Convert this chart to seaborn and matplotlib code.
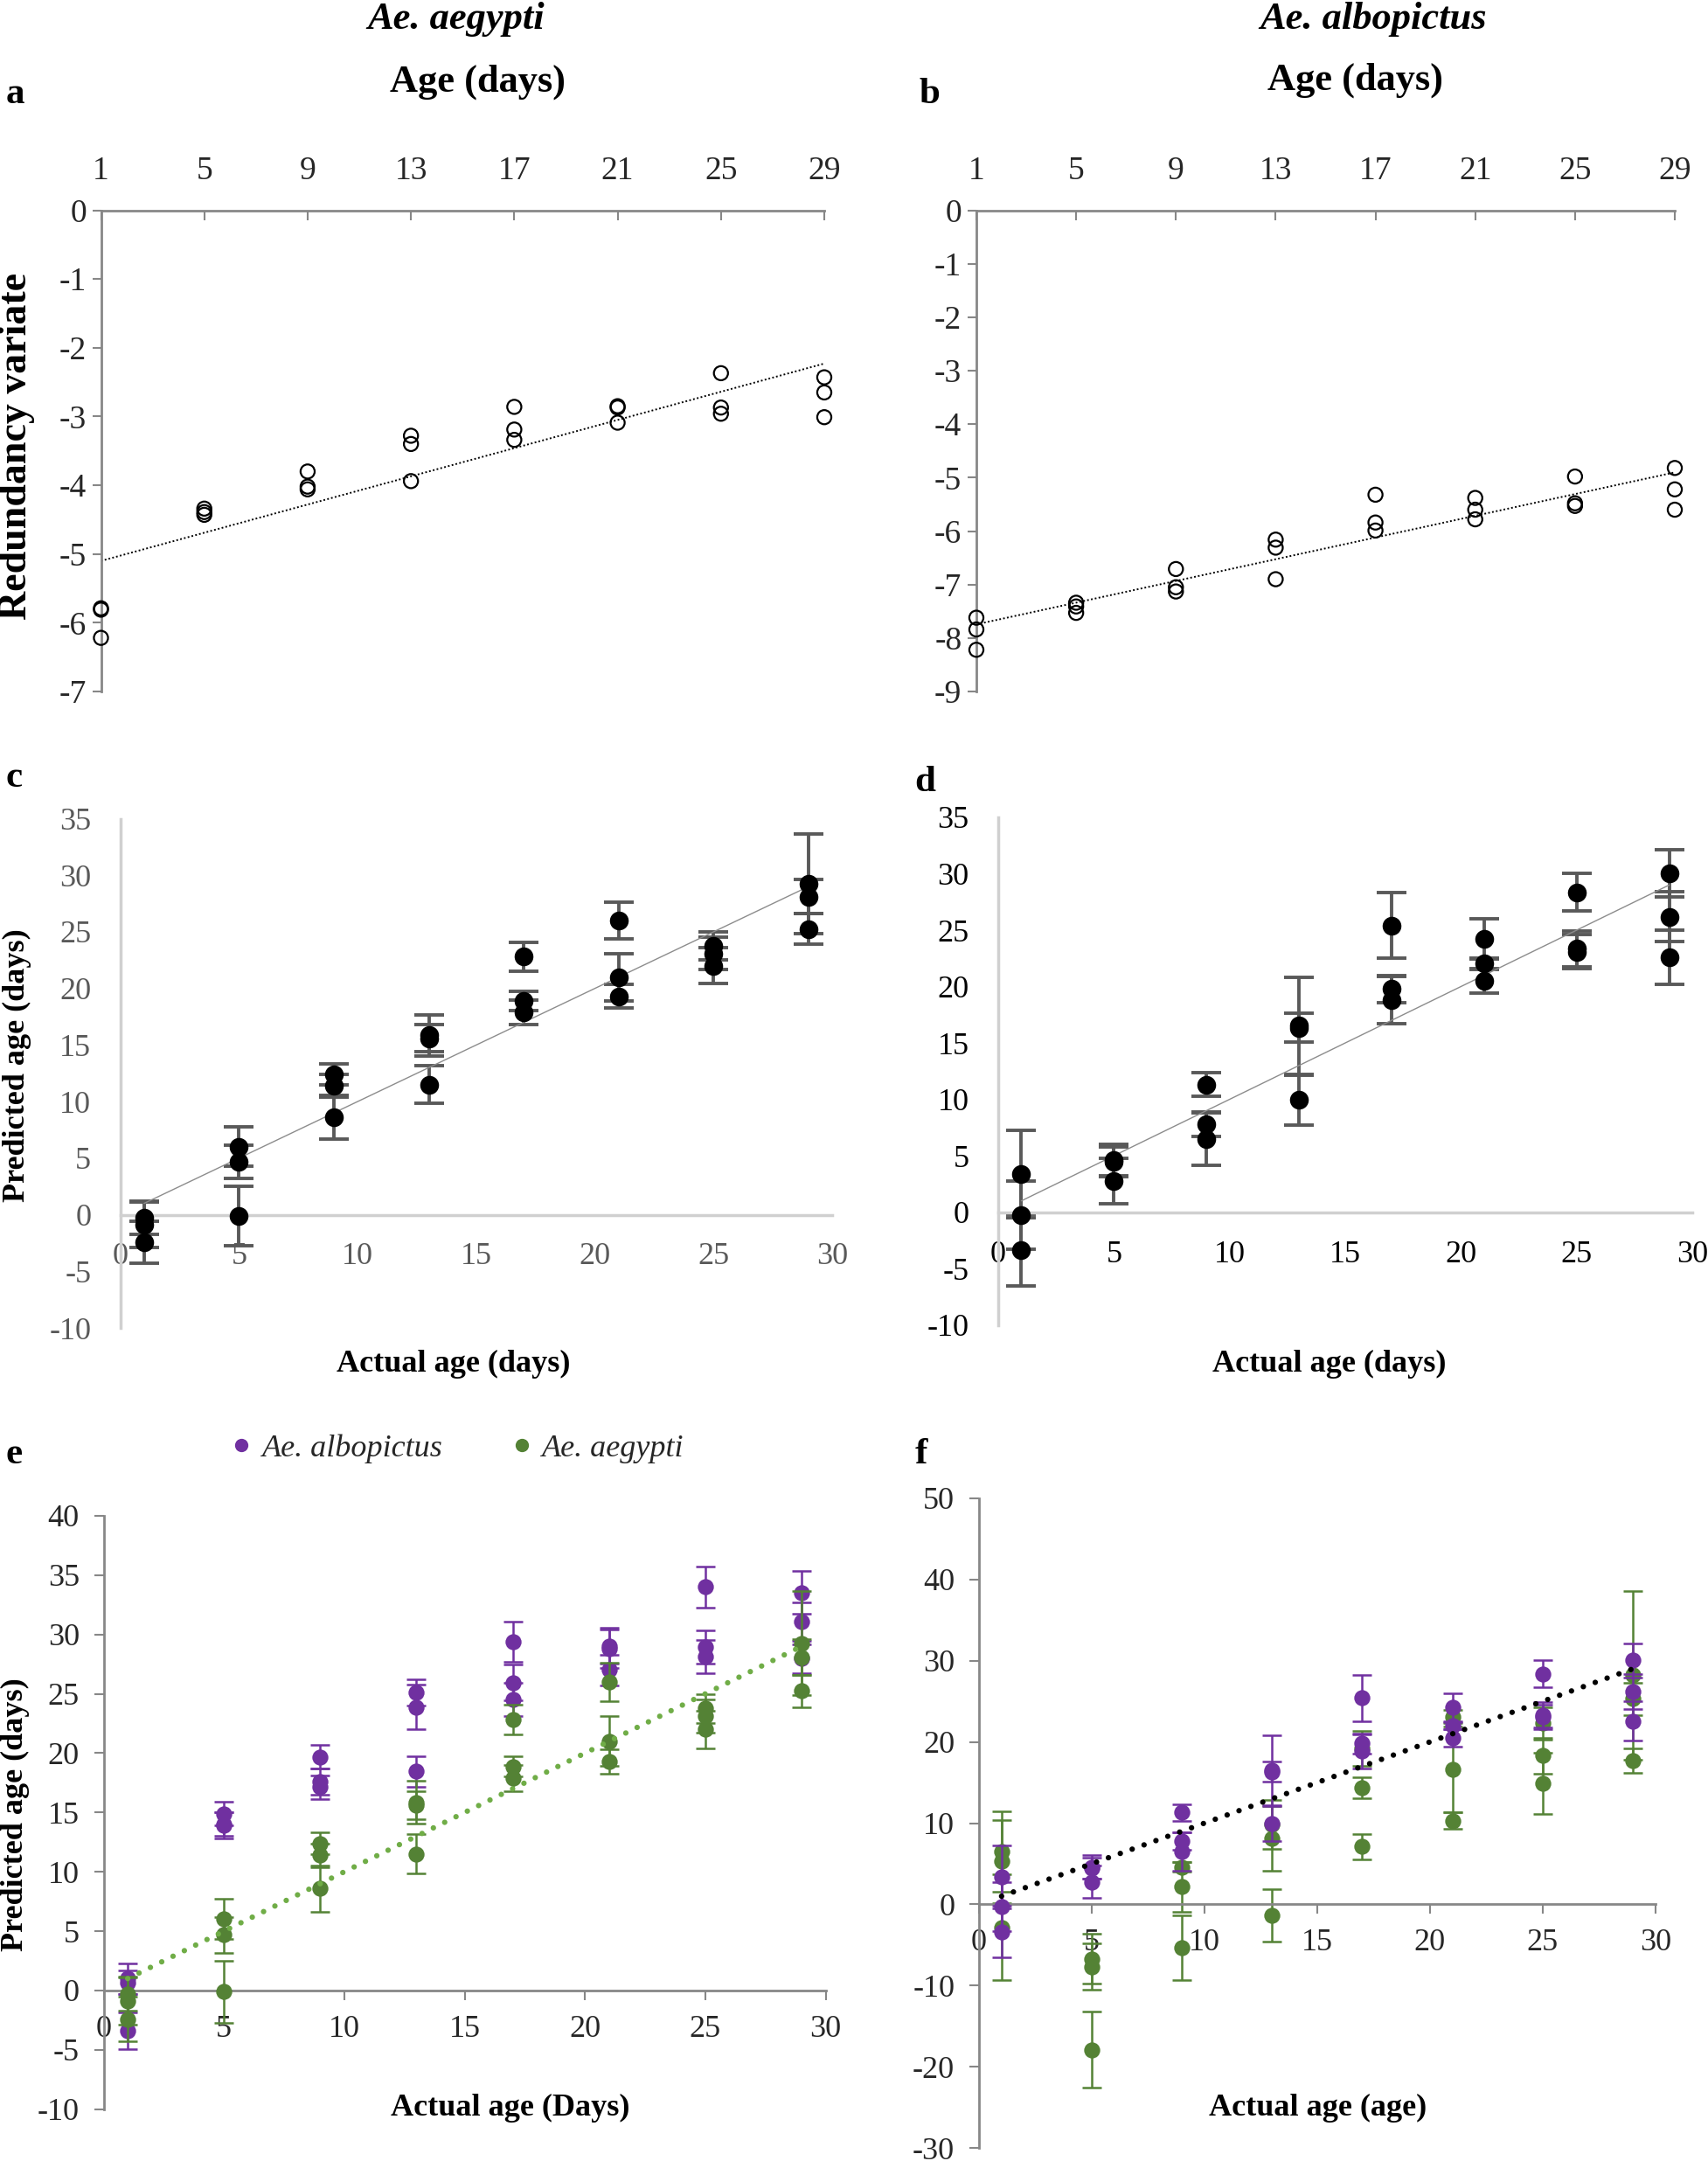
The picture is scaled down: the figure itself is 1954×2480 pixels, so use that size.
import numpy as np
import pandas as pd
import matplotlib
matplotlib.use("Agg")
import matplotlib.pyplot as plt
import seaborn as sns
from matplotlib.lines import Line2D

# ---- data (3 replicates per age) ----
ages = [1, 5, 9, 13, 17, 21, 25, 29]

# a: Ae. aegypti redundancy variate
a_rv = [[-5.79, -5.81, -6.22], [-4.34, -4.39, -4.43], [-3.80, -4.02, -4.06],
        [-3.28, -3.40, -3.94], [-2.86, -3.19, -3.34], [-2.85, -2.87, -3.09],
        [-2.37, -2.87, -2.96], [-2.43, -2.65, -3.01]]
# b: Ae. albopictus redundancy variate
b_rv = [[-7.62, -7.84, -8.22], [-7.34, -7.41, -7.53], [-6.71, -7.05, -7.13],
        [-6.16, -6.31, -6.90], [-5.32, -5.84, -5.99], [-5.38, -5.60, -5.78],
        [-4.98, -5.48, -5.53], [-4.82, -5.22, -5.60]]

# c: Ae. aegypti predicted age (aegypti model)
c_pred = [[-0.28, -0.89, -2.41], [6.03, 4.68, -0.10], [12.4, 11.4, 8.6],
          [15.85, 15.6, 11.5], [22.8, 18.87, 17.9], [26.0, 21.0, 19.3],
          [23.76, 23.1, 22.0], [29.26, 28.1, 25.25]]
c_err = [[1.45, 2.0, 1.85], [1.7, 1.5, 2.6], [0.95, 1.0, 1.95], [1.8, 1.2, 1.65],
         [1.25, 0.85, 1.1], [1.6, 2.1, 1.05], [1.2, 1.4, 1.6], [4.4, 1.5, 1.35]]

# d: Ae. albopictus predicted age (albopictus model)
d_pred = [[3.38, -0.28, -3.38], [4.58, 4.5, 2.77], [11.3, 7.78, 6.5],
          [16.52, 16.35, 9.95], [25.4, 19.8, 18.83], [24.24, 22.03, 20.5],
          [28.36, 23.35, 23.1], [30.03, 26.2, 22.57]]
d_err = [[3.9, 3.0, 3.2], [1.46, 1.3, 2.0], [1.03, 1.1, 2.34], [4.28, 1.25, 2.2],
         [2.9, 1.2, 2.1], [1.8, 0.5, 1.1], [1.67, 1.6, 1.5], [2.07, 2.2, 2.4]]

# e: Ae. albopictus predicted with the aegypti model
e_pred = [[1.0, 0.69, -3.43], [14.9, 13.9, 14.0], [19.68, 17.58, 17.13],
          [25.13, 23.9, 18.46], [29.37, 25.94, 24.5], [29.05, 28.8, 27.0],
          [34.0, 28.97, 28.16], [33.54, 31.07, 27.96]]
e_err = [[1.3, 1.0, 1.55], [1.0, 1.1, 1.0], [1.0, 1.1, 1.0], [1.1, 1.9, 1.3],
         [1.7, 1.5, 1.4], [1.5, 1.6, 1.3], [1.76, 1.4, 1.4], [1.8, 1.6, 1.2]]

# f: Ae. aegypti predicted with the albopictus model
f_pred = [[6.5, 5.3, -2.85], [-6.7, -7.66, -17.9], [4.6, 2.14, -5.34],
          [9.8, 8.08, -1.35], [19.2, 14.35, 7.12], [23.1, 16.6, 10.3],
          [22.3, 18.3, 14.9], [28.2, 25.3, 17.7]]
f_err = [[4.97, 5.1, 6.5], [3.1, 2.9, 4.7], [0.6, 3.1, 3.95], [3.0, 4.0, 3.2],
         [2.2, 1.3, 1.55], [0.8, 5.3, 1.0], [2.0, 2.2, 3.8], [10.4, 2.0, 1.5]]

PURPLE = "#7030A0"
GREEN = "#548235"
LIGHT_GREEN = "#70AD47"
AXIS_GRAY = "#878787"

sns.set_style("white")
plt.rcParams['font.family'] = ['Liberation Serif', 'DejaVu Serif']
plt.rcParams['axes.unicode_minus'] = False

W, H = 1954, 2480
fig = plt.figure(figsize=(W / 100, H / 100), dpi=100)


def box(x0, x1, ytop, ybot):
    return [x0 / W, 1 - ybot / H, (x1 - x0) / W, (ybot - ytop) / H]


def long_df(vals, errs=None):
    df = pd.DataFrame({'age': np.repeat(ages, 3), 'value': np.ravel(vals)})
    if errs is not None:
        df['err'] = np.ravel(errs)
    return df


def ftext(x, y, s, **kw):
    fig.text(x / W, 1 - y / H, s, **kw)


# ---- a / b : redundancy variate ----
def rv_panel(ax, vals, ymin):
    df = long_df(vals)
    sns.regplot(data=df, x='age', y='value', ax=ax, scatter=False, ci=None,
                line_kws=dict(color='black', lw=1.4, ls=(0, (1, 1.3))))
    sns.scatterplot(data=df, x='age', y='value', ax=ax, marker='o', s=135,
                    facecolors='none', edgecolor='black', linewidth=1.6,
                    zorder=3, clip_on=False)
    ax.set_xlim(1, 29)
    ax.set_ylim(ymin, 0)
    ax.xaxis.tick_top()
    ax.set_xticks(ages)
    ax.set_yticks(range(ymin, 1))
    for s in ['right', 'bottom']:
        ax.spines[s].set_visible(False)
    for s in ['top', 'left']:
        ax.spines[s].set_color(AXIS_GRAY)
        ax.spines[s].set_linewidth(2)
    ax.tick_params(axis='x', top=True, direction='in', length=8, width=1.5,
                   color=AXIS_GRAY, pad=20, labelsize=27)
    ax.tick_params(axis='y', left=True, direction='out', length=7, width=1.5,
                   color=AXIS_GRAY, pad=5, labelsize=27)
    ax.set_xlabel('')
    ax.set_ylabel('')


ax_a = fig.add_axes(box(115.5, 943, 240.5, 791))
rv_panel(ax_a, a_rv, -7)
ax_b = fig.add_axes(box(1117, 1916, 240.5, 791))
rv_panel(ax_b, b_rv, -9)


# ---- c / d : predicted age, single species ----
def pred_panel(ax, vals, errs, tick_color):
    df = long_df(vals, errs)
    ax.errorbar(df['age'], df['value'], yerr=df['err'], fmt='none',
                ecolor='#595959', elinewidth=2.8, capsize=12, capthick=2.8, zorder=2)
    sns.lineplot(x=ages, y=ages, ax=ax, color='#8c8c8c', lw=1.0, zorder=2.5)
    sns.scatterplot(data=df, x='age', y='value', ax=ax, color='black', s=240,
                    linewidth=0, zorder=3)
    ax.set_xlim(0, 30)
    ax.set_ylim(-10, 35)
    ax.set_xticks(range(0, 31, 5))
    ax.set_yticks(range(-10, 36, 5))
    ax.spines['left'].set_position(('data', 0))
    ax.spines['bottom'].set_position(('data', 0))
    for s in ['right', 'top']:
        ax.spines[s].set_visible(False)
    for s in ['left', 'bottom']:
        ax.spines[s].set_color('#D0D0D0')
        ax.spines[s].set_linewidth(2.5)
    ax.tick_params(axis='both', length=0, labelsize=26, labelcolor=tick_color)
    ax.tick_params(axis='y', pad=24)
    ax.tick_params(axis='x', pad=23)
    ax.set_xlabel('')
    ax.set_ylabel('')


ax_c = fig.add_axes(box(137.6, 952, 936.5, 1519))
pred_panel(ax_c, c_pred, c_err, '#595959')
ax_d = fig.add_axes(box(1142, 1936, 935, 1515.6))
pred_panel(ax_d, d_pred, d_err, 'black')


# ---- e / f : both species ----
def series(ax, vals, errs, color, z):
    df = long_df(vals, errs)
    ax.errorbar(df['age'], df['value'], yerr=df['err'], fmt='none', ecolor=color,
                elinewidth=1.8, capsize=8, capthick=1.8, zorder=z)
    sns.scatterplot(data=df, x='age', y='value', ax=ax, color=color, s=175,
                    linewidth=0, zorder=z + 0.5)


def cross_axes(ax, ylo, yhi, ystep):
    ax.set_xlim(0, 30)
    ax.set_ylim(ylo, yhi)
    ax.set_xticks(range(0, 31, 5))
    ax.set_yticks(range(ylo, yhi + 1, ystep))
    ax.spines['left'].set_position(('data', 0))
    ax.spines['bottom'].set_position(('data', 0))
    for s in ['right', 'top']:
        ax.spines[s].set_visible(False)
    for s in ['left', 'bottom']:
        ax.spines[s].set_color(AXIS_GRAY)
        ax.spines[s].set_linewidth(2)
    ax.tick_params(axis='both', direction='out', length=8, width=1.5,
                   color=AXIS_GRAY, labelsize=26, left=True, bottom=True)
    ax.tick_params(axis='y', pad=12)
    ax.tick_params(axis='x', pad=12)
    ax.set_xlabel('')
    ax.set_ylabel('')


dots = (0, (0.01, 2.3))

ax_e = fig.add_axes(box(118.6, 944.5, 1734, 2412.6))
series(ax_e, e_pred, e_err, PURPLE, 2)
series(ax_e, c_pred, c_err, GREEN, 3)
sns.lineplot(x=ages, y=ages, ax=ax_e, color=LIGHT_GREEN, lw=4.5, ls=dots,
             dash_capstyle='round', zorder=5)
cross_axes(ax_e, -10, 40, 5)

ax_f = fig.add_axes(box(1120, 1893.7, 1714, 2457))
series(ax_f, f_pred, f_err, GREEN, 2)
series(ax_f, d_pred, d_err, PURPLE, 3)
sns.lineplot(x=ages, y=ages, ax=ax_f, color='black', lw=4.5, ls=dots,
             dash_capstyle='round', zorder=5)
cross_axes(ax_f, -30, 50, 10)

# legend for e
handles = [Line2D([], [], ls='none', marker='o', ms=10, color=PURPLE),
           Line2D([], [], ls='none', marker='o', ms=10, color=GREEN)]
fig.legend(handles, ['Ae. albopictus', 'Ae. aegypti'], loc='center left',
           bbox_to_anchor=(262 / W, 1 - 1657 / H), ncol=2, frameon=False,
           prop=dict(style='italic', size=26), handlelength=0.8,
           handletextpad=0.25, columnspacing=2.1, borderpad=0, borderaxespad=0)

# ---- titles and labels ----
bold = dict(fontweight='bold', color='black')
ftext(522, 22, 'Ae. aegypti', ha='center', va='center', size=32,
      fontstyle='italic', **bold)
ftext(1571, 22, 'Ae. albopictus', ha='center', va='center', size=32,
      fontstyle='italic', **bold)
ftext(546, 94, 'Age (days)', ha='center', va='center', size=32, **bold)
ftext(1551, 92, 'Age (days)', ha='center', va='center', size=32, **bold)
ftext(19, 510, 'Redundancy variate', ha='center', va='center', rotation=90,
      size=33, **bold)
ftext(19, 1219, 'Predicted age (days)', ha='center', va='center', rotation=90,
      size=26, **bold)
ftext(17, 2076, 'Predicted age (days)', ha='center', va='center', rotation=90,
      size=26, **bold)
ftext(519, 1560, 'Actual age (days)', ha='center', va='center', size=26, **bold)
ftext(1521, 1560, 'Actual age (days)', ha='center', va='center', size=26, **bold)
ftext(584, 2411, 'Actual age (Days)', ha='center', va='center', size=26, **bold)
ftext(1508, 2411, 'Actual age (age)', ha='center', va='center', size=26, **bold)

for letter, x, y in [('a', 7, 108), ('b', 1051, 108), ('c', 7, 890),
                     ('d', 1046, 895), ('e', 6, 1664), ('f', 1047, 1664)]:
    ftext(x, y, letter, ha='left', va='center', size=31, **bold)

fig.savefig('out.png', dpi=100)
